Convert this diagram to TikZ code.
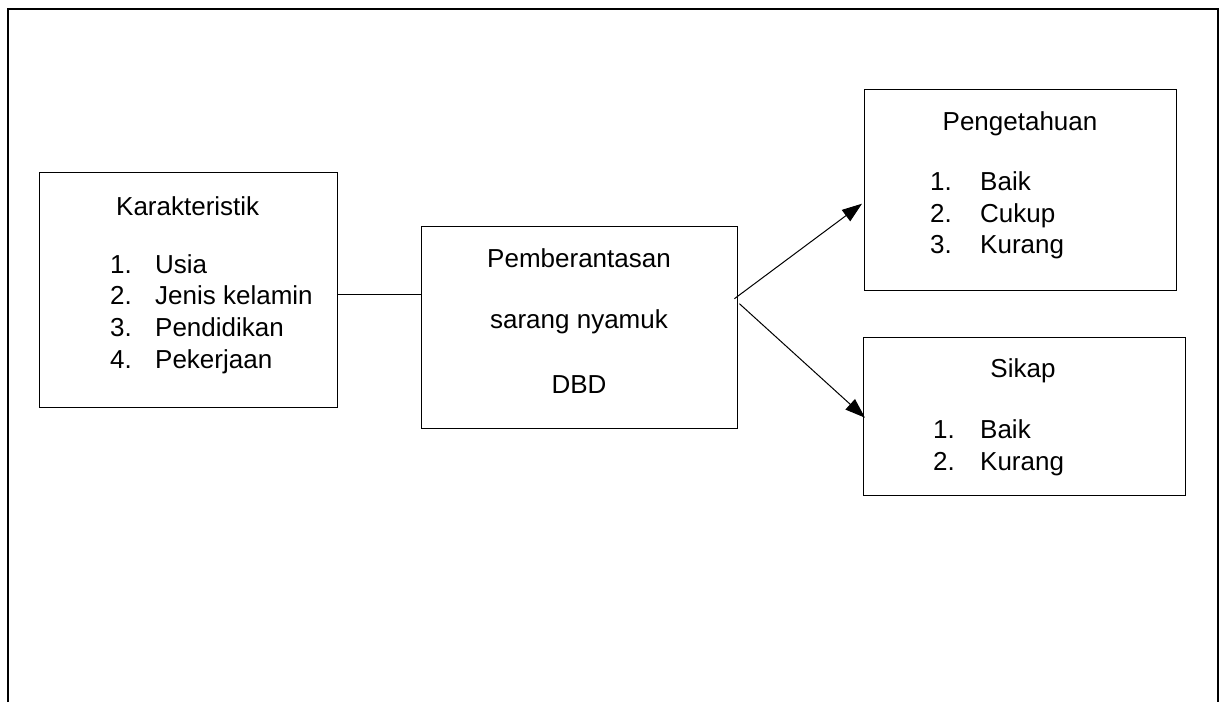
\documentclass[tikz,border=0pt]{standalone}
\usepackage{fontspec}
\setmainfont{Liberation Sans}
\usetikzlibrary{arrows.meta,calc,positioning}
\tikzset
{
	frameline/.style = {draw=black, line width=2pt},
	box/.style       = {rectangle, draw=black, line width=1.4pt, anchor=north west, inner sep=0pt},
	txt/.style       = {inner sep=0pt, anchor=base, font=\fontsize{26}{31}\selectfont},
	listitem/.style  = {txt, anchor=base west},
	link/.style      = {draw=black, line width=1pt},
	arrowlink/.style = {link, -{Triangle[length=20pt,width=14pt]}}
}

\begin{document}
\begin{tikzpicture}[x=1pt, y=-1pt]
\useasboundingbox (0,0) rectangle (1222,702);
% open frame
\draw[frameline] (7.5,702) -- (7.5,9) -- (1218,9) -- (1218,702);

% boxes
\node[box, minimum width=298pt, minimum height=235pt] (kar) at (39,172) {};
\node[box, minimum width=316pt, minimum height=202pt] (cen) at (421,226) {};
\node[box, minimum width=312pt, minimum height=201pt] (pen) at (864,89) {};
\node[box, minimum width=322pt, minimum height=158pt] (sik) at (863,337) {};

% Karakteristik
\node[listitem] (kar-title) at (116,215) {Karakteristik};
\foreach \t [count=\i] in {Usia, Jenis kelamin, Pendidikan, Pekerjaan}
	\node[listitem] (kar-\i) at (110,{273+31.7*(\i-1)}) {\makebox[45pt][l]{\i.}\t};

% Pemberantasan sarang nyamuk DBD
\node[txt] (cen-1) at (579,267) {Pemberantasan};
\node[txt] (cen-2) at (579,328) {sarang nyamuk};
\node[txt] (cen-3) at (579,393) {DBD};

% Pengetahuan
\node[txt] (pen-title) at (1020,130) {Pengetahuan};
\foreach \t [count=\i] in {Baik, Cukup, Kurang}
	\node[listitem] (pen-\i) at (930,{190.7+31.3*(\i-1)}) {\makebox[50pt][l]{\i.}\t};

% Sikap
\node[txt] (sik-title) at (1023,377) {Sikap};
\foreach \t [count=\i] in {Baik, Kurang}
	\node[listitem] (sik-\i) at (933,{438+32*(\i-1)}) {\makebox[47pt][l]{\i.}\t};

% connectors
\draw[link] ($(kar.east)+(0,3.8)$) -- ($(cen.west)+(0,-33.7)$);
\draw[arrowlink] ($(cen.east)+(-4,-29)$) -- ($(pen.west)+(-2,13.5)$);
\draw[arrowlink] ($(cen.east)+(1,-24)$) -- ($(sik.west)+(2,1)$);
\end{tikzpicture}
\end{document}
